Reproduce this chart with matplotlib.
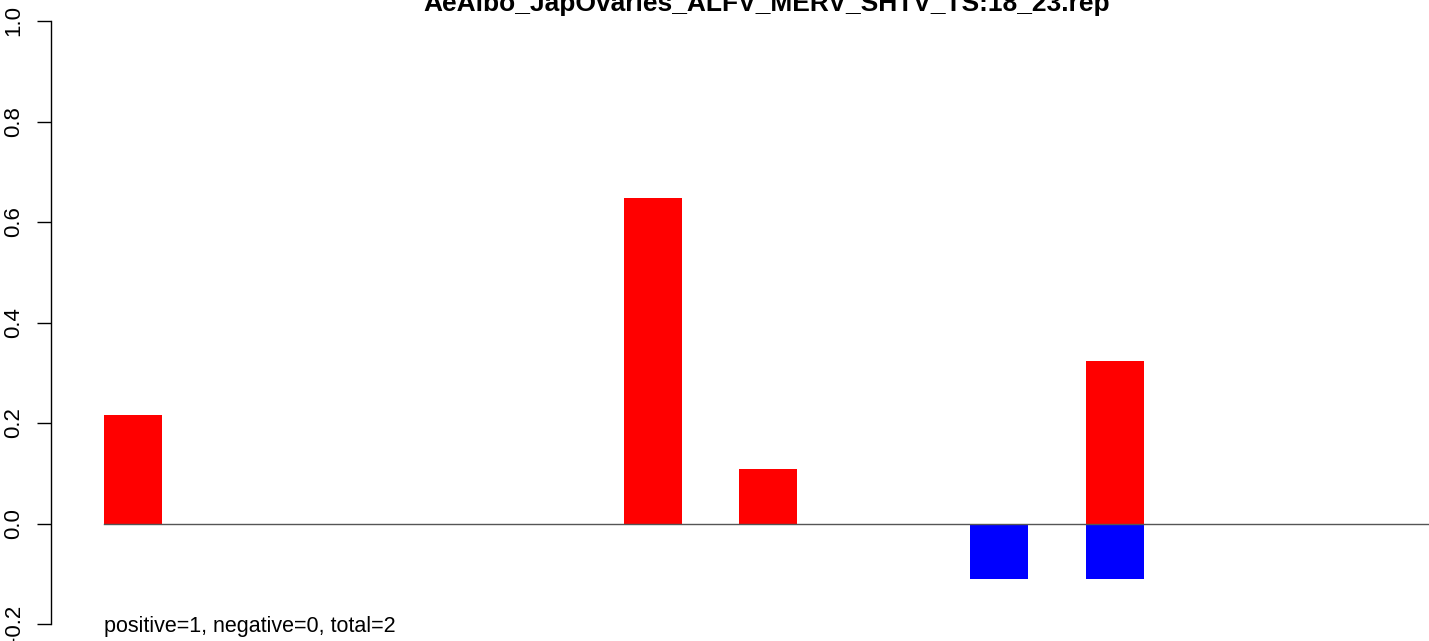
import numpy as np
import matplotlib
matplotlib.use("Agg")
import matplotlib.pyplot as plt

plt.rcParams['font.family'] = ['Liberation Sans', 'DejaVu Sans']

title = "AeAlbo_JapOvaries_ALFV_MERV_SHTV_TS:18_23.rep"
note = "positive=1, negative=0, total=2"

positions = [1, 5.5, 6.5, 8.5, 9.5]
positive = [0.216, 0.648, 0.108, 0.0, 0.324]
negative = [0.0, 0.0, 0.0, -0.11, -0.11]
yticks = [-0.2, 0.0, 0.2, 0.4, 0.6, 0.8, 1.0]

W, H = 1429, 641
fig = plt.figure(figsize=(W / 100, H / 100), dpi=100)
# axes placed in pixel terms: left spine at x=51, 1.0 at y=21, -0.2 at y=624
ax = fig.add_axes([51 / W, (H - 624) / H, (W - 51) / W, 603 / H])

ax.bar(positions, positive, width=0.5, color="red", align="center")
ax.bar(positions, negative, width=0.5, color="blue", align="center")
ax.plot([0.75, 14], [0, 0], color="#555555", lw=1, clip_on=False)

ax.set_xlim(0.29, 12.221)
ax.set_ylim(-0.2, 1.0)
ax.set_yticks(yticks)
ax.set_yticklabels(["%.1f" % v for v in yticks])
ax.tick_params(axis="y", length=10, width=1, pad=9, labelsize=16)
for lab in ax.get_yticklabels():
    lab.set_rotation(90)
    lab.set_va("center")
    lab.set_ha("right")
ax.set_xticks([])
for s in ["top", "right", "bottom"]:
    ax.spines[s].set_visible(False)
ax.spines["left"].set_bounds(-0.2, 1.0)
ax.spines["left"].set_linewidth(1)
ax.patch.set_visible(False)

fig.text(767 / W, 1 - 11 / H, title, ha="center", va="baseline",
         fontsize=19, fontweight="bold")
fig.text(104 / W, 1 - 632 / H, note, ha="left", va="baseline", fontsize=15.5)

fig.savefig("out.png", dpi=100)
